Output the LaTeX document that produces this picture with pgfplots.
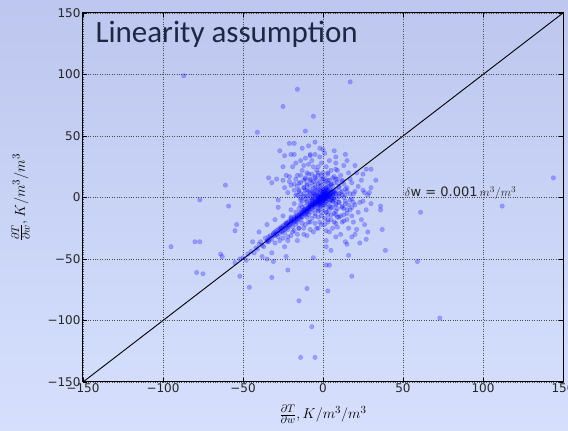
\documentclass[border=0pt]{standalone}
\usepackage{fontspec}
\setmainfont{DejaVu Sans}
\newfontfamily\carlito{Carlito}
\usepackage{pgfplots}
\pgfplotsset{compat=1.18}
\definecolor{bgtop}{RGB}{189,199,239}
\definecolor{bgbot}{RGB}{214,224,253}
\definecolor{titlecol}{RGB}{26,40,68}
\begin{document}
\begin{tikzpicture}[x=1pt,y=1pt]
\useasboundingbox (0,0) rectangle (568,431);
\shade[top color=bgtop, bottom color=bgbot] (0,0) rectangle (568,431);
\begin{axis}[
  at={(83pt,49pt)}, anchor=south west,
  scale only axis, width=480pt, height=369pt,
  xmin=-150, xmax=150, ymin=-150, ymax=150,
  xtick={-150,-100,-50,0,50,100,150},
  ytick={-150,-100,-50,0,50,100,150},
  xticklabels={−150,−100,−50,0,50,100,150},
  yticklabels={−150,−100,−50,0,50,100,150},
  tick label style={font=\fontsize{12}{14}\selectfont, text=black!85},
  xticklabel style={yshift=2pt},
  yticklabel style={xshift=1pt},
  tick align=inside, major tick length=4pt,
  every tick/.style={black, line width=0.6pt},
  grid=major,
  grid style={dotted, black!70, line width=0.7pt},
  axis line style={black, line width=1pt},
  xlabel={$\frac{\partial T}{\partial w}, K/m^3/m^3$},
  ylabel={$\frac{\partial T}{\partial w}, K/m^3/m^3$},
  label style={font=\fontsize{15.5}{18}\selectfont},
  xlabel style={at={(axis description cs:0.5,-0.088)}, anchor=center},
  ylabel style={at={(axis description cs:-0.13,0.5)}, anchor=center},
  clip=true,
]
\addplot[black, line width=0.9pt] coordinates {(-150,-150) (150,150)};
\addplot[only marks, mark=*, mark size=2.3pt, blue,
  mark options={fill=blue, fill opacity=0.27, draw opacity=0.22, line width=0.3pt}]
coordinates {
(0,0) (1,1) (-1,-1) (2,0) (-2,1) (0,-2) (1,-1) (-1,2) (3,2) (-3,-2) (2,3) (-2,-3)
(4,1) (-4,-1) (1,4) (-1,-4) (3,-1) (-3,1) (0,3) (0,-3) (5,3) (-5,-4) (2,-3) (-2,3)
(4,4) (-4,-5) (6,2) (-6,-3) (1,-5) (-1,5) (3,5) (-3,-6) (5,-2) (-5,2) (2,6) (-2,-6)
(7,4) (-7,-6) (4,-4) (-4,4) (0,1) (1,0) (-1,0) (0,-1) (2,2) (-2,-2) (3,3) (-3,-3)
(1,2) (-2,-1) (2,1) (-1,-2) (3,0) (-3,0) (0,2) (-1,1) (1,-2) (-2,0) (2,-1) (0,4)
(-0.5,0.5) (0.5,-0.5) (1.5,1.5) (-1.5,-1.5) (2.5,0.5) (-2.5,-0.5) (0.5,2.5) (-0.5,-2.5)
(3.5,1.5) (-3.5,-1.5) (1.5,3.5) (-1.5,-3.5) (4.5,2.5) (-4.5,-2.5) (2.5,4.5) (-2.5,-4.5)
(6,5) (-6,-6) (5,6) (8,3) (-8,-5) (6,-1) (-6,1) (1,7) (-1,-7) (7,0) (-7,-2) (0,6) (0,-6)
(-14,18) (-9,19) (-5,17) (-1,18) (3,19) (7,17) (-11,16) (-3,20) (1,16)
(-17,15) (-12,14) (-8,15) (-4,14) (0,15) (4,14) (8,15) (12,13) (-6,13) (2,13)
(-18,11) (-14,12) (-10,11) (-7,12) (-3,11) (1,12) (5,11) (9,12) (13,11) (-1,10) (3,9)
(-16,9) (-12,8) (-8,9) (-5,8) (-2,9) (2,8) (6,9) (10,8) (14,7) (-10,6) (4,7) (0,7)
(-15,5) (-11,6) (-7,5) (-4,6) (-1,5) (3,6) (7,5) (11,4) (15,5) (-6,7) (5,4) (1,5) (-2,6)
(-16,2) (-12,3) (-9,2) (-6,3) (-3,2) (0,3) (4,2) (8,3) (12,2) (17,3) (-8,4) (2,4) (6,1) (10,1)
(-14,0) (-11,-1) (-8,0) (-5,-1) (-2,0) (1,-1) (5,0) (9,-1) (13,0) (18,-1) (-6,1) (3,1) (7,-2) (-10,1)
(-13,-3) (-10,-4) (-7,-3) (-4,-4) (-1,-3) (2,-4) (6,-3) (10,-4) (14,-3) (19,-4) (4,-2) (-2,-5) (8,-5)
(-14,-6) (-11,-7) (-8,-6) (-5,-6) (-2,-7) (1,-6) (4,-7) (8,-6) (12,-7) (16,-6) (-9,-8) (6,-8) (-3,-9)
(-15,-9) (-12,-10) (-9,-9) (-6,-10) (-3,-11) (0,-9) (4,-10) (8,-11) (13,-9) (17,-10) (-11,-12) (2,-12)
(-17,-12) (-14,-13) (-11,-14) (-8,-12) (-5,-13) (-1,-12) (3,-14) (7,-13) (11,-15) (15,-13) (-13,-16)
(-20,-16) (-17,-17) (-14,-18) (-10,-16) (-7,-17) (-3,-16) (1,-17) (5,-18) (9,-16) (13,-19) (-16,-20)
(-23,-21) (-20,-20) (-17,-22) (-13,-21) (-9,-20) (-5,-21) (-1,-22) (3,-20) (8,-21) (-19,-24) (-15,-25)
(-26,-25) (-22,-26) (-18,-27) (-12,-25) (-8,-26) (-3,-25) (2,-27) (-24,-29) (-20,-31)
(-31,-30) (-28,-32) (-25,-33) (-22,-35) (-16,-30) (-10,-31) (-34,-36) (-30,-37)
(-2,-2) (-4,-3) (-6,-6) (-8,-8) (-10,-10) (-12,-13) (-14,-14) (-16,-16) (-18,-18) (-20,-21)
(-22,-22) (-3,-4) (-5,-5) (-7,-7) (-9,-10) (-11,-11) (-13,-13) (-15,-15) (-17,-17) (-19,-19)
(-21,-22) (-23,-23) (-25,-25) (-27,-27) (-29,-29) (-31,-31) (-33,-33) (-35,-35)
(-45,-44) (-42,-41) (-40,-38) (-38,-39) (-36,-33) (-35,-36) (-33,-31) (-32,-34) (-30,-28)
(-29,-30) (-28,-26) (-27,-29) (-26,-24) (-25,-27) (-24,-22) (-23,-25) (-22,-20) (-21,-23)
(-20,-19) (-19,-21) (-18,-16) (-17,-19) (-16,-15) (-15,-17) (-14,-12) (-13,-15) (-12,-11)
(-11,-13) (-10,-9) (-9,-11) (-8,-7) (-7,-9) (-6,-5) (-5,-7) (-24,-26) (-20,-17) (-16,-18)
(-12,-10) (-10,-12) (-8,-6) (-6,-8) (-14,-16) (-18,-20) (-22,-24) (-26,-28) (-30,-31)
(-34,-35) (-15,-14) (-11,-10) (-9,-8) (-7,-6) (-5,-4) (-13,-12) (-17,-15) (-19,-18)
(-21,-19) (-23,-21) (-25,-23) (-27,-25) (-29,-27) (-31,-29) (-50,-49) (-55,-53) (-48,-51)
(-37,-40) (-39,-36) (-43,-45) (-47,-46) (-52,-50) (-34,-32) (-41,-42)
(-5,10) (-8,14) (-12,8) (-3,18) (-10,20) (-15,12) (-6,25) (-18,6) (-2,12) (-9,5) (-14,3)
(-20,10) (-7,30) (-4,22) (-12,26) (-16,18) (-22,4) (-25,14) (-11,15) (-3,7) (-6,4) (-13,22)
(-1,28) (-8,35) (-19,25) (-24,8) (-17,2) (-28,-2) (-5,16) (-2,33) (-10,10) (-14,30) (-21,17)
(-7,19) (-3,25) (-15,6) (-9,27) (-1,15) (-4,3) (-12,1)
(5,10) (8,6) (12,14) (3,20) (10,3) (15,8) (6,16) (18,12) (2,25) (9,22) (14,2) (20,5) (4,30)
(11,18) (7,12) (16,20) (22,9) (1,36) (13,26) (25,6) (3,14) (6,4) (10,9) (19,3) (8,28) (24,14)
(2,8) (17,15) (28,2) (5,22) (12,5) (0,20) (7,38) (15,30) (21,20) (30,8) (9,15) (4,11)
(5,-8) (10,-4) (8,-14) (15,-10) (3,-18) (12,-20) (20,-6) (6,-25) (18,-15) (25,-3) (2,-12)
(14,-5) (9,-9) (22,-12) (7,-20) (16,-25) (11,-30) (4,-28) (19,-20) (27,-10) (13,-14) (1,-22)
(6,-3) (24,-18) (10,-16) (17,-2) (3,-8) (8,-32) (21,-26) (30,-5) (12,-8) (5,-14) (15,-18)
(26,-22) (2,-35) (9,-24) (20,-30) (14,-36) (18,-8) (23,-4)
(-5,-15) (-10,-3) (-15,-25) (-8,-20) (-3,-10) (-20,-10) (-12,-30) (-25,-15) (-18,-5) (-6,-28)
(-30,-18) (-14,-2) (-2,-20) (-22,-32) (-9,-14) (-4,-25) (-28,-8) (-16,-35) (-35,-22) (-11,-22)
(-7,-2) (-24,-40) (-32,-45) (-40,-28) (-19,-28) (-27,-35) (-38,-48) (-44,-36) (-13,-8) (-1,-15)
(-87,99) (-16,88) (-25,74) (-6,66) (-41,53) (-11,54) (-21,44) (-18,44) (-27,38) (-24,34)
(-20,35) (-18,35) (-11,32) (-8,34) (-5,35) (-25,25) (-61,10) (-34,16) (-32,12) (-29,15)
(-23,18) (-21,13) (-17,28) (-13,40) (-9,42) (-5,45) (-2,40) (0,39)
(17,94) (144,16) (8,33) (8,23) (27,23) (30,23) (25,19) (26,4) (29,4) (20,26) (14,35) (33,14)
(-77,-2) (-59,-7) (-54,-22) (-55,-27) (-80,-36) (-77,-36) (-95,-40) (-64,-46) (-63,-48)
(-79,-61) (-75,-62) (-52,-64) (-46,-73) (-32,-65) (-22,-59) (-10,-74) (-15,-84) (-7,-105)
(-14,-130) (-5,-130) (-6,-49) (-23,-48) (-35,-50) (-31,-52)
(36,-7) (36,-10) (61,-12) (112,-7) (37,-26) (39,-43) (27,-34) (59,-52) (18,-64) (3,-76)
(2,-55) (16,-47) (73,-98) (15,-38) (5,-43) (2,-40) (18,-32) (23,-37) (28,-28) (4,-55)
};
\node[anchor=base west, font=\fontsize{13}{15}\selectfont, text=black!85] at (axis cs:49,0.5) {$\delta$w = 0.001$\,m^3/m^3$};
\end{axis}
\node[anchor=base west, font=\carlito\fontsize{31}{36}\selectfont, text=titlecol] at (92,388) {Linearity assumption};
\end{tikzpicture}
\end{document}
